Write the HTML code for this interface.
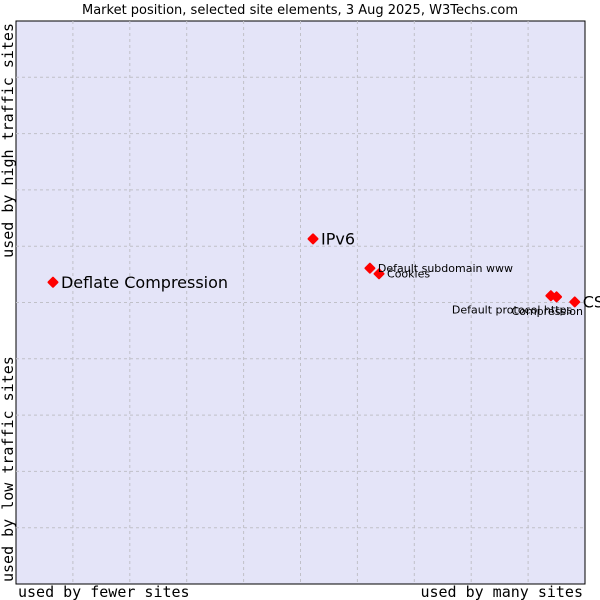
<!DOCTYPE html>
<html><head><meta charset="utf-8"><style>
body{margin:0;background:#fff;}
svg{display:block;font-family:"DejaVu Sans","Liberation Sans",sans-serif;}
</style></head><body>
<svg id="chart" width="600" height="600" viewBox="0 0 600 600">
<text x="300" y="14" font-size="13" text-anchor="middle" fill="#000">Market position, selected site elements, 3 Aug 2025, W3Techs.com</text>
<rect x="16" y="21" width="569" height="563" fill="#e4e4f8" stroke="#000" stroke-width="1"/>
<g id="grid"></g>
<g id="points"></g>
<text x="18" y="597" font-size="15" font-family="DejaVu Sans Mono,Liberation Mono,monospace">used by fewer sites</text>
<text x="583" y="597" font-size="15" text-anchor="end" font-family="DejaVu Sans Mono,Liberation Mono,monospace">used by many sites</text>
<text transform="translate(13,23) rotate(-90)" font-size="15" text-anchor="end" font-family="DejaVu Sans Mono,Liberation Mono,monospace">used by high traffic sites</text>
<text transform="translate(13,582) rotate(-90)" font-size="15" font-family="DejaVu Sans Mono,Liberation Mono,monospace">used by low traffic sites</text>
</svg>
<script>
const names = ["Deflate Compression","IPv6","Default subdomain www","Cookies","Default protocol https","Compression","CSS"];
const xVals = [6.5, 52.2, 62.2, 63.8, 94.0, 95.0, 98.2];
const yVals = [53.6, 61.3, 56.1, 55.1, 51.2, 51.0, 50.1];
const labelSizes = [16, 16, 11, 11, 11, 11, 16];
const X0=16,X1=585,Y0=584,Y1=21;
const xs=v=>X0+(X1-X0)*v/100, ys=v=>Y0-(Y0-Y1)*v/100;
const NS="http://www.w3.org/2000/svg";
const grid=document.getElementById('grid');
for(let i=1;i<10;i++){
  const v=document.createElementNS(NS,'line');
  
  
  v.setAttribute('x1',xs(i*10));v.setAttribute('x2',xs(i*10));v.setAttribute('y1',Y1);v.setAttribute('y2',Y0);
  v.setAttribute('stroke','#c0c0c8');v.setAttribute('stroke-dasharray','3,3');
  grid.appendChild(v);
  const h=document.createElementNS(NS,'line');
  
  
  h.setAttribute('y1',ys(i*10));h.setAttribute('y2',ys(i*10));h.setAttribute('x1',X0);h.setAttribute('x2',X1);
  h.setAttribute('stroke','#c0c0c8');h.setAttribute('stroke-dasharray','3,3');
  grid.appendChild(h);
}
const pts=document.getElementById('points');
names.forEach((n,i)=>{
  const cx=xs(xVals[i]),cy=ys(yVals[i]);
  const c=document.createElementNS(NS,'polygon');
  
  
  c.setAttribute('points',`${cx},${cy-4.5} ${cx+4.5},${cy} ${cx},${cy+4.5} ${cx-4.5},${cy}`);
  c.setAttribute('fill','#f00');c.setAttribute('stroke','#f00');c.setAttribute('stroke-linejoin','round');c.setAttribute('stroke-width','2');
  pts.appendChild(c);
});
names.forEach((n,i)=>{
  const cx=xs(xVals[i]),cy=ys(yVals[i]);
  const t=document.createElementNS(NS,'text');
  
  
  t.setAttribute('font-size',labelSizes[i]);
  if(n==="Default protocol https"){t.setAttribute('x',cx-99);t.setAttribute('y',cy+18);}
  else if(n==="Compression"){t.setAttribute('x',cx-45);t.setAttribute('y',cy+18);}
  else{t.setAttribute('x',cx+8);t.setAttribute('y',cy+labelSizes[i]*0.35);}
  t.textContent=n;
  pts.appendChild(t);
});
</script>
</body></html>
